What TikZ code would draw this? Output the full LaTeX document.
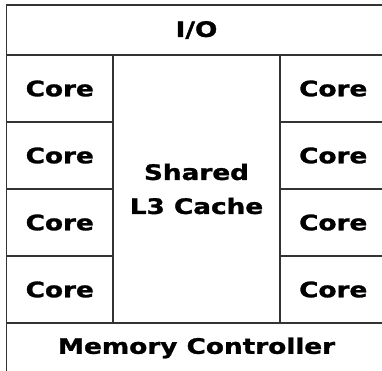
\documentclass[tikz,border=0pt]{standalone}
\usepackage{fontspec}
\usepackage{graphicx}
\setmainfont{DejaVu Sans}[BoldFeatures={FakeBold=1.2}]
\definecolor{linec}{HTML}{333333}
% labels are set a little flattened
\newcommand{\flatlbl}[1]{\scalebox{1}[0.81]{#1}}
\begin{document}
\begin{tikzpicture}[x=1pt,y=-1pt,
  cell/.style={draw=linec, line width=1.5pt, inner sep=0pt, outer sep=0pt,
    anchor=north west, align=center,
    font=\bfseries\fontsize{26.3}{34}\selectfont},
  corebox/.style={cell, minimum width=106.5pt, minimum height=67pt},
  widebox/.style={cell, minimum width=380pt, minimum height=50pt}]
\useasboundingbox (0,0) rectangle (382,370);
\clip (0,0) rectangle (382,370);
\fill[white] (0,0) rectangle (382,370);
% top and bottom bars
\node[widebox] (io) at (6.5,5) {\flatlbl{I/O}};
\node[widebox] (mc) at (6.5,323) {\flatlbl{Memory Controller}};
% shared cache in the middle
\node[cell, minimum width=167pt, minimum height=268pt] (l3) at (113,55) {\flatlbl{Shared}\\\flatlbl{L3 Cache}};
% four cores on each side
\foreach \i in {0,...,3} {
  \node[corebox] (cl\i) at (6.5,55+67*\i) {\flatlbl{Core}};
  \node[corebox] (cr\i) at (280,55+67*\i) {\flatlbl{Core}};
}
\end{tikzpicture}
\end{document}
